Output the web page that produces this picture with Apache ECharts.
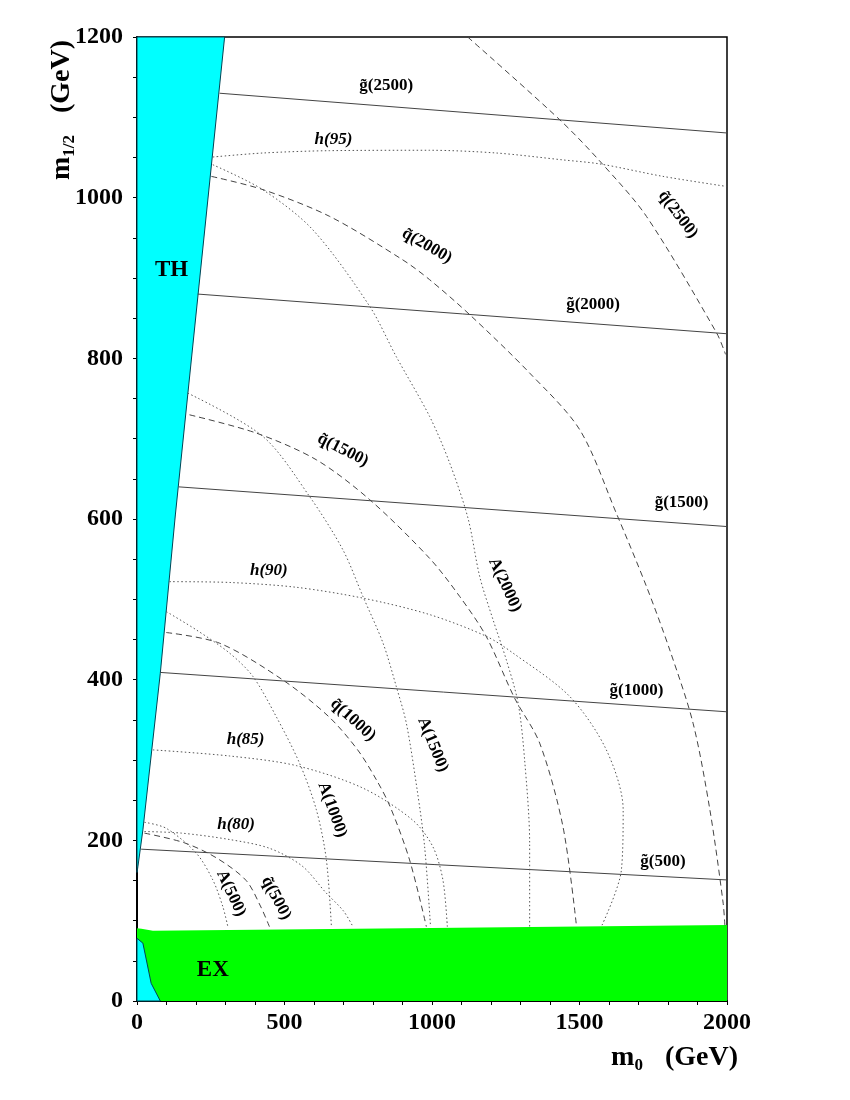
<!DOCTYPE html>
<html>
<head>
<meta charset="utf-8">
<script src="https://cdn.jsdelivr.net/npm/echarts@6/dist/echarts.min.js"></script>
<style>
  html, body { margin: 0; padding: 0; background: #fff; }
  #chart { width: 850px; height: 1100px; }
</style>
</head>
<body>
<div id="chart"></div>
<script>
// axes (GeV)
var xTicks = [0, 500, 1000, 1500, 2000];
var yTicks = [0, 200, 400, 600, 800, 1000, 1200];

// excluded regions, [m0, m1/2]
var thRegion = [[0, 160], [3, 167], [20, 213], [79, 408], [130, 605], [297, 1200], [0, 1200]];
var exRegion = [[0, 90.5], [15, 90], [54, 87.6], [1000, 91], [2000, 94.6], [2000, 0], [0, 0]];
var exCorner = [[0, 78], [20, 72], [48, 22], [79, 0], [0, 0]];

// gluino mass contours (solid)
var g500 = [[14, 189], [2000, 150.7]];
var g1000 = [[79, 409], [2000, 360]];
var g1500 = [[142, 640], [2000, 590.6]];
var g2000 = [[206, 880], [2000, 830.6]];
var g2500 = [[280, 1130], [2000, 1080.5]];

// squark mass contours (dashed)
var q500 = [[25, 209], [160, 197], [270, 178], [370, 150], [420, 117], [449, 92.5]];
var q1000 = [[99, 458.7], [280, 445.4], [494, 399.7], [650, 354], [748, 312.6], [812, 275], [858, 242], [924, 175.6], [981, 92.5]];
var q1500 = [[178, 729.7], [404, 707], [608, 673.7], [789, 624], [992, 551], [1094, 503.5], [1184, 453.7], [1280, 377], [1365, 321], [1444, 217], [1490, 92.5]];
var q2000 = [[252, 1026.5], [427, 1010], [653, 976.7], [900, 922.8], [992, 897.9], [1128, 854.3], [1331, 781.7], [1501, 711], [1625, 607], [1727, 516], [1806, 437], [1885, 345.8], [1942, 237.9], [1987, 121.7], [1993, 92.5]];
var q2500 = [[1121, 1200], [1433, 1097], [1575, 1043], [1727, 976.7], [1965, 831.5], [1995, 805]];

// pseudoscalar A mass contours (dotted)
var a500 = [[25, 222.5], [99, 215], [201, 184], [257, 150.7], [291, 117.4], [308, 92.5]];
var a1000 = [[99, 484.8], [201, 462], [314, 433], [393, 404], [472, 354], [551, 296], [608, 238], [642, 175.6], [659, 92.5]];
var a1500 = [[172, 756.7], [427, 702.7], [585, 628], [698, 561.6], [766, 503.5], [834, 445.5], [879, 391.4], [913, 345.8], [950, 262], [975, 192], [995, 92.5]];
var a2000 = [[257, 1041], [426, 1010], [596, 960], [789, 864.6], [879, 802], [992, 727.6], [1060, 669.6], [1122, 601], [1162, 528], [1207, 474.5], [1252, 424.6], [1292, 370.7], [1314, 300], [1331, 196], [1331, 92.5]];

// light higgs mass contours (dotted)
var h80 = [[25, 211], [150, 209], [314, 201], [450, 190], [560, 168], [640, 135], [700, 112], [732, 92.5]];
var h85 = [[54, 312.6], [314, 305], [540, 293], [766, 265], [935, 225], [1003, 192], [1037, 150.7], [1052, 92.5]];
var h90 = [[110, 522], [314, 521], [540, 515], [766, 501.5], [992, 481], [1184, 454], [1275, 433], [1467, 379], [1591, 312.6], [1648, 238], [1642, 163], [1574, 92.5]];
var h95 = [[257, 1050.6], [427, 1055.6], [653, 1058.5], [992, 1059], [1218, 1055.6], [1444, 1047], [1569, 1042], [1783, 1026.5], [1998, 1014]];

// contour labels: text, anchor [m0, m1/2]
var labelText = ['g\u0303(2500)', 'g\u0303(2000)', 'g\u0303(1500)', 'g\u0303(1000)', 'g\u0303(500)',
  'q\u0303(2500)', 'q\u0303(2000)', 'q\u0303(1500)', 'q\u0303(1000)', 'q\u0303(500)',
  'h(95)', 'h(90)', 'h(85)', 'h(80)',
  'A(2000)', 'A(1500)', 'A(1000)', 'A(500)'];
var labelPos = [[845, 1139], [1546, 867], [1846, 620], [1693, 387], [1783, 173.5],
  [1834, 979], [983, 940], [698, 686], [732, 350], [472, 128],
  [666, 1072], [447, 535.5], [368, 325], [336, 219],
  [1247, 518], [1003, 319], [662, 238], [319, 134]];
var labelRot = [0, 0, 0, 0, 0, -53, -30, -27, -42, -62, 0, 0, 0, 0, -65, -68, -70, -65];

var serif = 'Liberation Serif, Times New Roman, serif';

function regionSeries(points, fill, stroke) {
  return {
    type: 'custom',
    coordinateSystem: 'cartesian2d',
    data: points,
    z: 1,
    silent: true,
    renderItem: function (params, api) {
      if (params.dataIndex !== 0) return;
      var pts = points.map(function (p) { return api.coord(p); });
      return {
        type: 'polygon',
        shape: { points: pts },
        style: { fill: fill, stroke: stroke, lineWidth: stroke ? 1 : 0 }
      };
    }
  };
}

function curve(data, kind) {
  var ls = { color: '#444', width: 1, type: 'solid' };
  if (kind === 'dash') { ls.type = [6, 4]; ls.color = '#444'; }
  if (kind === 'dot') { ls.type = [1.5, 2.5]; ls.color = '#555'; }
  return {
    type: 'line',
    data: data,
    showSymbol: false,
    symbol: 'none',
    smooth: kind === 'solid' ? false : 0.3,
    lineStyle: ls,
    silent: true,
    z: 3
  };
}

var labelData = labelText.map(function (t, i) {
  return {
    value: labelPos[i],
    label: {
      formatter: t,
      rotate: labelRot[i],
      fontStyle: t.charAt(0) === 'h' ? 'italic' : 'normal'
    }
  };
});

var nameRich = {
  m: { fontFamily: serif, fontWeight: 'bold', fontSize: 28, color: '#000', lineHeight: 32 },
  s: { fontFamily: serif, fontWeight: 'bold', fontSize: 17, color: '#000', verticalAlign: 'bottom', lineHeight: 32, padding: [16, 0, 0, 0] },
  u: { fontFamily: serif, fontWeight: 'bold', fontSize: 28, color: '#000', lineHeight: 32, padding: [0, 0, 0, 22] }
};

var myChart = echarts.init(document.getElementById('chart'));
var option = {
  backgroundColor: '#fff',
  animation: false,
  grid: { left: 137, top: 37, width: 590, height: 964, show: true, borderColor: '#000', borderWidth: 1.5, backgroundColor: 'transparent' },
  xAxis: {
    type: 'value', min: 0, max: 2000, interval: 100,
    axisLine: { show: true, lineStyle: { color: '#000', width: 2 } },
    axisTick: { show: true, length: 4, lineStyle: { color: '#000' } },
    splitLine: { show: false },
    axisLabel: {
      showMinLabel: true, showMaxLabel: true,
      color: '#000', fontFamily: serif, fontWeight: 'bold', fontSize: 24, margin: 10,
      formatter: function (v) { return xTicks.indexOf(v) >= 0 ? String(v) : ''; }
    }
  },
  yAxis: {
    type: 'value', min: 0, max: 1200, interval: 50,
    axisLine: { show: true, lineStyle: { color: '#000', width: 2 } },
    axisTick: { show: true, length: 4, lineStyle: { color: '#000' } },
    splitLine: { show: false },
    axisLabel: {
      showMinLabel: true, showMaxLabel: true,
      color: '#000', fontFamily: serif, fontWeight: 'bold', fontSize: 24, margin: 14,
      formatter: function (v) { return yTicks.indexOf(v) >= 0 ? String(v) : ''; }
    }
  },
  series: [
    regionSeries(exRegion, '#00ff00', null),
    regionSeries(exCorner, '#00ffff', '#045'),
    regionSeries(thRegion, '#00ffff', '#045'),
    curve(g500, 'solid'), curve(g1000, 'solid'), curve(g1500, 'solid'), curve(g2000, 'solid'), curve(g2500, 'solid'),
    curve(q500, 'dash'), curve(q1000, 'dash'), curve(q1500, 'dash'), curve(q2000, 'dash'), curve(q2500, 'dash'),
    curve(a500, 'dot'), curve(a1000, 'dot'), curve(a1500, 'dot'), curve(a2000, 'dot'),
    curve(h80, 'dot'), curve(h85, 'dot'), curve(h90, 'dot'), curve(h95, 'dot'),
    {
      type: 'scatter',
      data: labelData,
      symbolSize: 0,
      silent: true,
      z: 5,
      itemStyle: { opacity: 1 },
      label: {
        show: true, position: 'inside', color: '#000', textBorderWidth: 0, opacity: 1,
        fontFamily: serif, fontWeight: 'bold', fontSize: 17
      }
    },
    {
      type: 'scatter',
      data: [{ value: [117, 910], name: 'TH' }, { value: [257, 38.6], name: 'EX' }],
      symbolSize: 0,
      silent: true,
      z: 5,
      itemStyle: { opacity: 1 },
      label: {
        show: true, position: 'inside', formatter: '{b}', color: '#000', textBorderWidth: 0, opacity: 1,
        fontFamily: serif, fontWeight: 'bold', fontSize: 23
      }
    }
  ],
  graphic: [
    {
      type: 'text', x: 738, y: 1058, z: 10,
      style: { text: '{m|m}{s|0}{u|(GeV)}', align: 'right', verticalAlign: 'middle', rich: nameRich }
    },
    {
      type: 'text', x: 62, y: 40, rotation: Math.PI / 2, z: 10,
      style: { text: '{m|m}{s|1/2}{u|(GeV)}', align: 'right', verticalAlign: 'middle', rich: nameRich }
    }
  ]
};
option && myChart.setOption(option);
</script>
</body>
</html>
